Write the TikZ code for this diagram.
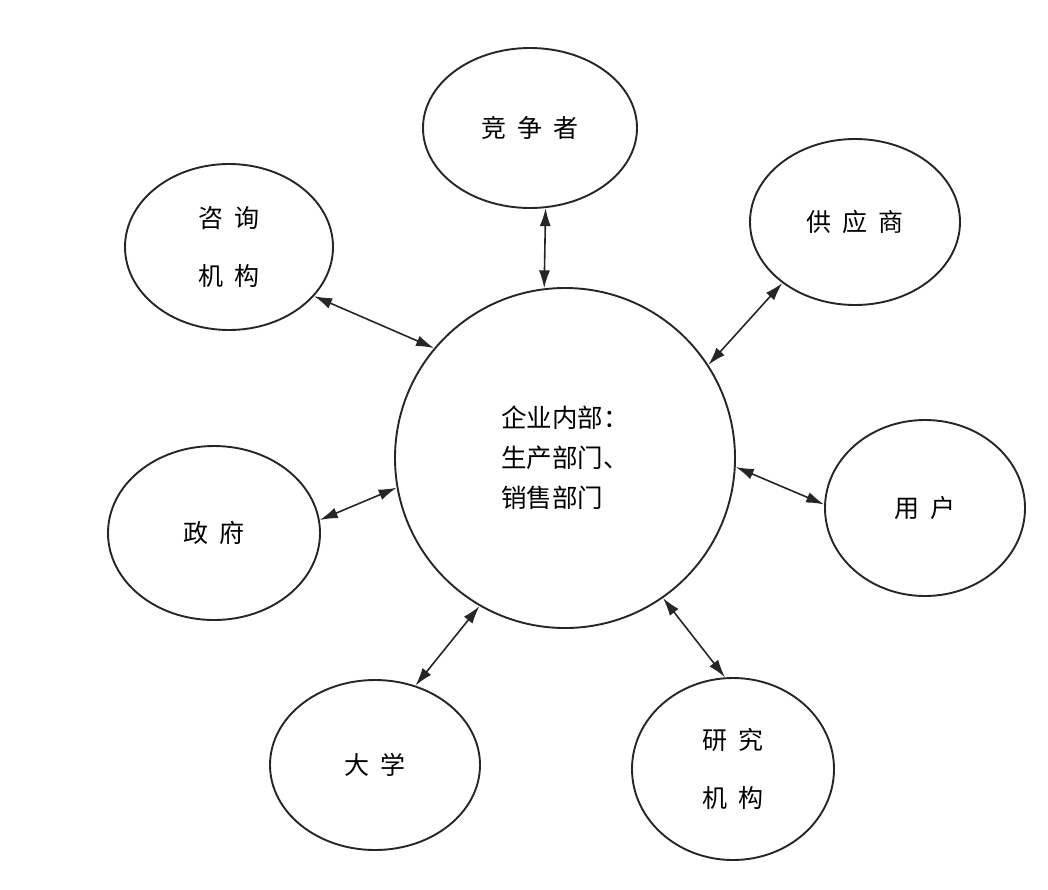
\documentclass[tikz,border=0pt]{standalone}
\usepackage{fontspec}
\setmainfont{Noto Sans CJK SC}
\usepackage{tikz}
\usetikzlibrary{
    arrows.meta,
    shapes.geometric
}
\newcommand{\cgap}{\hspace{0.45em}}

\begin{document}
\begin{tikzpicture}[
        x=1pt, y=-1pt,
        party/.style={
            draw=black!85,
            shape=ellipse,
            line width=1.9pt,
            inner sep=0pt,
            align=center,
            font=\fontsize{25}{58}\selectfont
        },
        core/.style={
            draw=black!85,
            shape=circle,
            line width=1.9pt,
            minimum size=340pt,
            inner sep=0pt,
            align=left,
            font=\fontsize{25.5}{40}\selectfont
        },
        arrow/.style={
            {Latex[length=18pt,width=11pt]}-{Latex[length=18pt,width=11pt]},
            line width=1.6pt,
            draw=black!85
        }
    ]
    \useasboundingbox (0,0) rectangle (1048,889);

    \node[core] (inner) at (565,458) {
        企业内部：\\
        生产部门、\\
        销售部门
    };

    \node[party, minimum width=214pt, minimum height=160pt] (rival) at (530,128) {竞\cgap 争\cgap 者};
    \node[party, minimum width=208pt, minimum height=166pt] (consult) at (229,247) {咨\cgap 询\\机\cgap 构};
    \node[party, minimum width=210pt, minimum height=166pt] (supplier) at (855,222) {供\cgap 应\cgap 商};
    \node[party, minimum width=212pt, minimum height=174pt] (govt) at (214,533) {政\cgap 府};
    \node[party, minimum width=200pt, minimum height=176pt] (user) at (925,508) {用\cgap 户};
    \node[party, minimum width=210pt, minimum height=170pt] (univ) at (375,765) {大\cgap 学};
    \node[party, minimum width=202pt, minimum height=182pt] (research) at (733,769) {研\cgap 究\\机\cgap 构};

    \draw[arrow] (consult.-30) -- (inner.140);
    \draw[arrow] (rival.-79) -- (inner.97);
    \draw[arrow] (supplier.220) -- (inner.33);
    \draw[arrow] (user.178) -- (inner.-3);
    \draw[arrow] (govt.7) -- (inner.190);
    \draw[arrow] (univ.63) -- (inner.240);
    \draw[arrow] (research.95) -- (inner.-55);

\end{tikzpicture}
\end{document}
